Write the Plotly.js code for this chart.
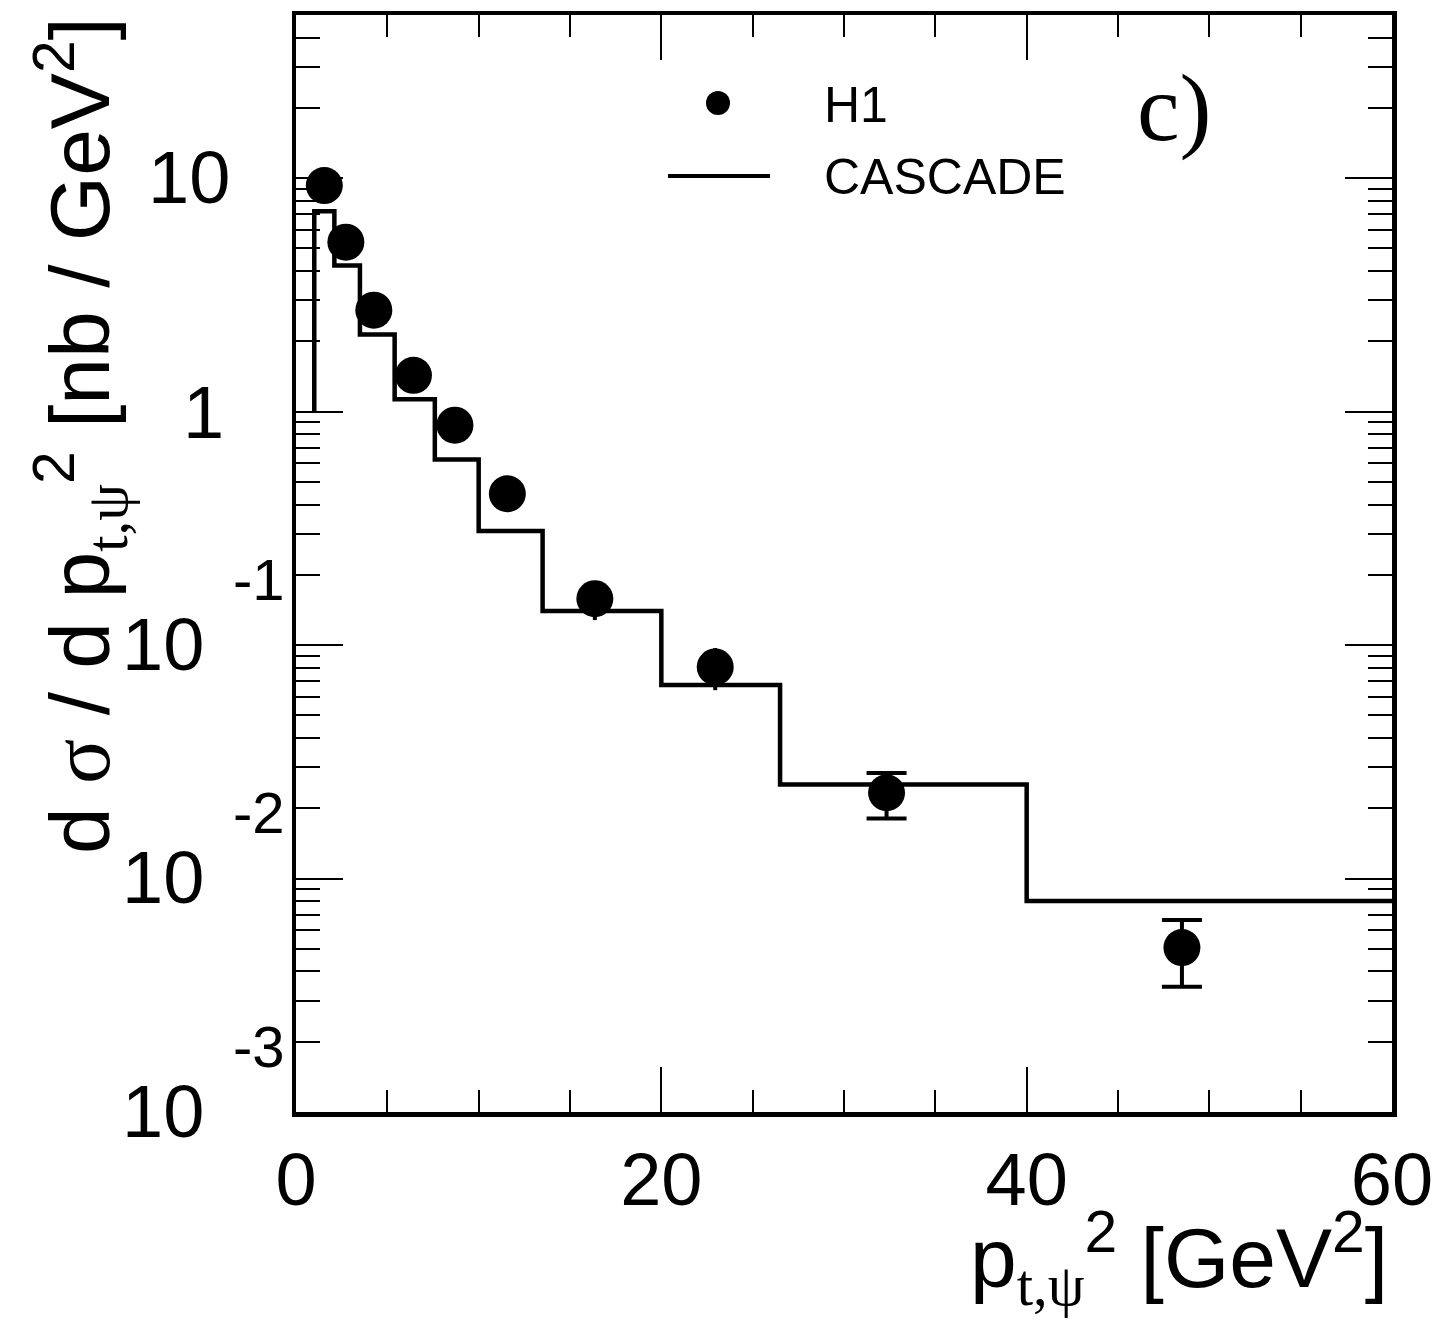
<!DOCTYPE html>
<html>
<head>
<meta charset="utf-8">
<script src="https://cdn.plot.ly/plotly-3.0.1.min.js"></script>
<style>html,body{margin:0;padding:0;background:#fff;}#chart{width:1438px;height:1322px;}</style>
</head>
<body>
<div id="chart"></div>
<script>
// ---- data ----
const h1X       = [1.55, 2.73, 4.26, 6.43, 8.7, 11.57, 16.36, 22.95, 32.33, 48.5];
const h1Y       = [9.3, 5.32, 2.72, 1.43, 0.875, 0.445, 0.158, 0.0806, 0.0233, 0.00506];
const h1ErrUp   = [0.45, 0.27, 0.14, 0.08, 0.05, 0.03, 0.03, 0.0165, 0.0050, 0.00158];
const h1ErrDown = [0.45, 0.27, 0.14, 0.08, 0.05, 0.03, 0.03, 0.0165, 0.0052, 0.00162];

const cascadeEdges  = [1, 2.1, 3.5, 5.4, 7.6, 10, 13.5, 20, 26.5, 40, 60];
const cascadeValues = [7.22, 4.23, 2.14, 1.13, 0.624, 0.308, 0.14, 0.0675, 0.0253, 0.00802];
const cascadeStart  = 1;

const xTickVals = [0, 20, 40, 60];
const yTickExps = [1, 0, -1, -2, -3];

const seriesNames = ["H1", "CASCADE"];
const panelLabel = "c)";

// ---- style: which H1 error bars get end caps (those that stick out of the marker) ----
const capped = [false, false, false, false, false, false, false, false, true, true];

// ---- geometry ----
const PL = 296, PR = 1392, PT = 15, PB = 1112;
const W = PR - PL, H = PB - PT;
const px = v => (v - PL) / W;
const py = v => (PB - v) / H;

const SANS = "Liberation Sans, Arial, Helvetica, sans-serif";
const SERIF = "Liberation Serif, Times New Roman, serif";

// step path for the CASCADE histogram
const stepX = [cascadeEdges[0]], stepY = [cascadeStart];
for (let i = 0; i < cascadeValues.length; i++) {
  stepX.push(cascadeEdges[i]); stepY.push(cascadeValues[i]);
  stepX.push(cascadeEdges[i + 1]); stepY.push(cascadeValues[i]);
}

const pick = (arr, want) => arr.map((v, i) => (capped[i] === want ? v : NaN));

const traces = [
  {
    x: stepX, y: stepY, type: "scatter", mode: "lines", name: seriesNames[1],
    line: {color: "#000", width: 4.5}, hoverinfo: "skip", showlegend: false
  },
  {
    // error bars without caps (short ones, mostly hidden by the markers)
    x: h1X, y: h1Y, type: "scatter", mode: "markers", name: seriesNames[0] + " err",
    marker: {color: "#000", size: 1, opacity: 0},
    error_y: {type: "data", symmetric: false, array: pick(h1ErrUp, false), arrayminus: pick(h1ErrDown, false),
              color: "#000", thickness: 4, width: 0},
    showlegend: false
  },
  {
    x: h1X, y: h1Y, type: "scatter", mode: "markers", name: seriesNames[0],
    marker: {color: "#000", size: 37, symbol: "circle"},
    error_y: {type: "data", symmetric: false, array: pick(h1ErrUp, true), arrayminus: pick(h1ErrDown, true),
              color: "#000", thickness: 4, width: 20},
    showlegend: false
  }
];

const annotations = [];
// y tick labels in ROOT style
yTickExps.forEach(e => {
  if (e === 1) {
    annotations.push({xref: "paper", yref: "y", x: 0, y: e, xanchor: "right", yanchor: "middle",
      xshift: 232 - PL, yshift: 1, text: "10", showarrow: false, font: {family: SANS, size: 74, color: "#000"}});
  } else if (e === 0) {
    annotations.push({xref: "paper", yref: "y", x: 0, y: e, xanchor: "right", yanchor: "middle",
      xshift: 226 - PL, yshift: -1, text: "1", showarrow: false, font: {family: SANS, size: 74, color: "#000"}});
  } else {
    annotations.push({xref: "paper", yref: "y", x: 0, y: e, xanchor: "right", yanchor: "middle",
      xshift: 206 - PL, yshift: 1, text: "10", showarrow: false, font: {family: SANS, size: 74, color: "#000"}});
    annotations.push({xref: "paper", yref: "y", x: 0, y: e, xanchor: "left", yanchor: "middle",
      xshift: 231 - PL, yshift: 66, text: String(e), showarrow: false, font: {family: SANS, size: 58, color: "#000"}});
  }
});

// axis titles
annotations.push({
  xref: "paper", yref: "paper", x: 1, y: py(1258), xanchor: "right", yanchor: "middle", xshift: -2,
  text: "p<sub><span style=\"font-family:Liberation Serif\">t,ψ</span></sub><sup>2</sup>\u00a0[GeV<sup>2</sup>]",
  showarrow: false, font: {family: SANS, size: 84, color: "#000"}
});
annotations.push({
  xref: "paper", yref: "paper", x: px(80), y: py(436), xanchor: "center", yanchor: "middle", textangle: -90,
  text: "d <span style=\"font-family:Liberation Serif\">σ</span> / d p<sub><span style=\"font-family:Liberation Serif\">t,ψ</span></sub><sup>2</sup> [nb / GeV<sup>2</sup>]",
  showarrow: false, font: {family: SANS, size: 84, color: "#000"}
});

// legend texts and panel label
annotations.push({xref: "paper", yref: "paper", x: px(822), y: py(105), xanchor: "left", yanchor: "middle",
  text: seriesNames[0], showarrow: false, font: {family: SANS, size: 50, color: "#000"}});
annotations.push({xref: "paper", yref: "paper", x: px(822), y: py(177), xanchor: "left", yanchor: "middle",
  text: seriesNames[1], showarrow: false, font: {family: SANS, size: 50, color: "#000"}});
annotations.push({xref: "paper", yref: "paper", x: px(1174), y: py(108), xanchor: "center", yanchor: "middle",
  text: panelLabel, showarrow: false, font: {family: SERIF, size: 96, color: "#000"}});

const shapes = [
  {type: "circle", xref: "paper", yref: "paper", x0: px(706), x1: px(730), y0: py(115), y1: py(91),
   fillcolor: "#000", line: {width: 0}},
  {type: "line", xref: "paper", yref: "paper", x0: px(668), x1: px(770), y0: py(176), y1: py(176),
   line: {color: "#000", width: 4}}
];

const layout = {
  width: 1438, height: 1322,
  margin: {l: PL, r: 1438 - PR, t: PT, b: 1322 - PB, pad: 0},
  paper_bgcolor: "#fff", plot_bgcolor: "#fff",
  font: {family: SANS, color: "#000"},
  showlegend: false,
  xaxis: {
    range: [0, 60], tickvals: xTickVals, ticktext: xTickVals.map(String),
    ticks: "inside", ticklen: 45, tickwidth: 2, tickcolor: "#000",
    showline: true, linewidth: 4.5, linecolor: "#000", mirror: "ticks",
    showgrid: false, zeroline: false,
    tickfont: {family: SANS, size: 74, color: "#000"},
    minor: {dtick: 5, tick0: 0, ticks: "inside", ticklen: 22, tickwidth: 2, tickcolor: "#000", showgrid: false}
  },
  yaxis: {
    type: "log", range: [-3, Math.log10(50)], dtick: 1,
    ticks: "inside", ticklen: 47, tickwidth: 2, tickcolor: "#000",
    showline: true, linewidth: 4.5, linecolor: "#000", mirror: "ticks",
    showgrid: false, zeroline: false, showticklabels: false,
    minor: {dtick: "D1", ticks: "inside", ticklen: 24, tickwidth: 2, tickcolor: "#000", showgrid: false}
  },
  annotations: annotations,
  shapes: shapes
};

Plotly.newPlot("chart", traces, layout, {staticPlot: true, displayModeBar: false});
</script>
</body>
</html>
